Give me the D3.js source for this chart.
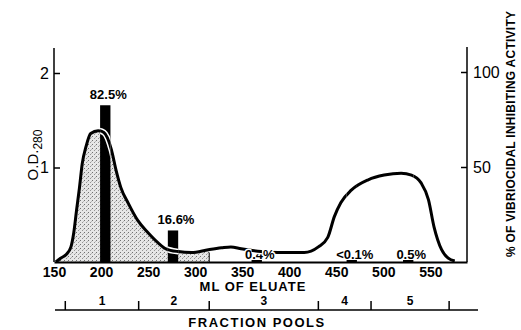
<!DOCTYPE html>
<html>
<head>
<meta charset="utf-8">
<script src="https://cdn.jsdelivr.net/npm/d3@7"></script>
<style>
  body { margin: 0; background: #fff; }
  svg { display: block; font-family: "Liberation Sans", Arial, sans-serif; }
</style>
</head>
<body>
<div id="chart"></div>
<script>
// O.D. 280 curve (ml of eluate -> optical density)
const odMl  = [152, 157, 163, 168, 171, 174, 177, 180, 184, 189, 197, 203, 211, 216, 221, 229, 239, 250, 261, 269, 282, 296, 314, 328, 338, 349, 370, 388, 416, 431, 441, 448, 455, 466, 484, 501, 519, 530, 540, 548, 554, 562, 569, 576];
const odVal = [0.00, 0.04, 0.08, 0.16, 0.31, 0.55, 0.78, 1.04, 1.22, 1.36, 1.39, 1.37, 1.19, 0.97, 0.79, 0.62, 0.44, 0.31, 0.20, 0.14, 0.11, 0.10, 0.13, 0.15, 0.16, 0.14, 0.11, 0.10, 0.10, 0.16, 0.26, 0.48, 0.63, 0.76, 0.87, 0.92, 0.94, 0.92, 0.84, 0.66, 0.37, 0.13, 0.04, 0.01];

// vibriocidal inhibiting activity bars
const barStart  = [199, 271, 360, 461, 521];
const barVal    = [82.5, 16.6, 0.4, 0.1, 0.5];
const barLabels = ["82.5%", "16.6%", "0.4%", "<0.1%", "0.5%"];
const barWidthMl = 11;

// axes
const xTicks   = [150, 200, 250, 300, 350, 400, 450, 500, 550];
const odTicks  = [1, 2];
const pctTicks = [50, 100];

// fraction pools
const poolEdges = [162, 240, 315, 431, 487, 570];
const poolNames = ["1", "2", "3", "4", "5"];
const shadeEnd = 315;

const W = 521, H = 330;
const svg = d3.select("#chart").append("svg").attr("width", W).attr("height", H);

const x  = d3.scaleLinear().domain([150, 589]).range([54, 467]);
const y  = d3.scaleLinear().domain([0, 2]).range([262, 73]);
const yR = d3.scaleLinear().domain([0, 100]).range([262, 72]);

const pts = odMl.map((m, i) => ({ ml: m, od: odVal[i] }));
const bars = barStart.map((s, i) => ({ s: s, v: barVal[i], label: barLabels[i] }));

// stipple pattern
const defs = svg.append("defs");
const pat = defs.append("pattern").attr("id", "stip")
  .attr("patternUnits", "userSpaceOnUse").attr("width", 4).attr("height", 4);
pat.append("rect").attr("width", 4).attr("height", 4).attr("fill", "#e6e6e6");
pat.append("rect").attr("x", 0).attr("y", 0).attr("width", 1).attr("height", 1).attr("fill", "#707070");
pat.append("rect").attr("x", 2).attr("y", 2).attr("width", 1).attr("height", 1).attr("fill", "#959595");
pat.append("rect").attr("x", 3).attr("y", 1).attr("width", 1).attr("height", 1).attr("fill", "#b8b8b8");

defs.append("clipPath").attr("id", "shadeClip").append("rect")
  .attr("x", x(150)).attr("y", 0).attr("width", x(shadeEnd) - x(150)).attr("height", y(0));

const barClip = defs.append("clipPath").attr("id", "barClip");
barClip.selectAll("rect").data(bars).enter().append("rect")
  .attr("x", d => x(d.s)).attr("width", d => x(d.s + barWidthMl) - x(d.s))
  .attr("y", 0).attr("height", y(0));

const curve = d3.curveMonotoneX;

// shaded area under pools 1-2
svg.append("path").datum(pts)
  .attr("clip-path", "url(#shadeClip)")
  .attr("fill", "url(#stip)")
  .attr("d", d3.area().x(d => x(d.ml)).y0(y(0)).y1(d => y(d.od)).curve(curve));
svg.append("line")
  .attr("x1", x(shadeEnd)).attr("x2", x(shadeEnd))
  .attr("y1", y(0)).attr("y2", y(0.1))
  .attr("stroke", "#000").attr("stroke-width", 1);

const line = d3.line().x(d => x(d.ml)).y(d => y(d.od)).curve(curve);

// main curve
svg.append("path").datum(pts)
  .attr("fill", "none").attr("stroke", "#000").attr("stroke-width", 3)
  .attr("d", line);

// percent labels (white halo breaks the curve)
svg.selectAll(".blabel").data(bars).enter().append("text")
  .attr("class", "blabel")
  .attr("x", d => x(d.s + barWidthMl / 2) + 3)
  .attr("y", d => d.v > 5 ? yR(d.v) - 6 : 259)
  .attr("text-anchor", "middle")
  .attr("font-size", 13).attr("font-weight", "bold")
  .attr("stroke", "#fff").attr("stroke-width", 3).attr("paint-order", "stroke")
  .attr("fill", "#000")
  .text(d => d.label);

// activity bars
svg.selectAll(".bar").data(bars).enter().append("rect")
  .attr("class", "bar")
  .attr("x", d => x(d.s))
  .attr("width", d => x(d.s + barWidthMl) - x(d.s))
  .attr("y", d => Math.min(yR(d.v), y(0) - 2))
  .attr("height", d => Math.max(y(0) - yR(d.v), 2))
  .attr("fill", "#000");

// curve crossing the bars, with a white edge
const over = svg.append("g").attr("clip-path", "url(#barClip)");
over.append("path").datum(pts)
  .attr("fill", "none").attr("stroke", "#fff").attr("stroke-width", 6).attr("d", line);
over.append("path").datum(pts)
  .attr("fill", "none").attr("stroke", "#000").attr("stroke-width", 3).attr("d", line);

// left axis
svg.append("line").attr("x1", x(150)).attr("x2", x(150)).attr("y1", y(0)).attr("y2", 48)
  .attr("stroke", "#000").attr("stroke-width", 1.5);
const gl = svg.append("g").attr("transform", "translate(" + x(150) + ",0)")
  .call(d3.axisLeft(y).tickValues(odTicks).tickFormat(d3.format("d")).tickSize(-6).tickPadding(5));
gl.select(".domain").remove();
gl.selectAll("line").attr("stroke-width", 1.5);
gl.selectAll("text").attr("font-size", 16).attr("font-family", "Liberation Sans, Arial, sans-serif");

// right axis
svg.append("line").attr("x1", 467).attr("x2", 467).attr("y1", y(0)).attr("y2", 47)
  .attr("stroke", "#000").attr("stroke-width", 1.5);
const gr = svg.append("g").attr("transform", "translate(467,0)")
  .call(d3.axisRight(yR).tickValues(pctTicks).tickFormat(d3.format("d")).tickSize(-6).tickPadding(6));
gr.select(".domain").remove();
gr.selectAll("line").attr("stroke-width", 1.5);
gr.selectAll("text").attr("font-size", 16).attr("font-family", "Liberation Sans, Arial, sans-serif");

// bottom axis
const gb = svg.append("g").attr("transform", "translate(0," + y(0) + ")")
  .call(d3.axisBottom(x).tickValues(xTicks).tickSize(0).tickPadding(5).tickSizeOuter(0));
gb.select(".domain").attr("stroke-width", 2);
gb.selectAll("text").attr("font-size", 14).attr("font-weight", "bold")
  .attr("font-family", "Liberation Sans, Arial, sans-serif");

svg.append("text")
  .attr("x", 253).attr("y", 291)
  .attr("text-anchor", "middle").attr("font-size", 13).attr("font-weight", "bold")
  .attr("letter-spacing", 1)
  .text("ML OF ELUATE");

// y titles
const odTitle = svg.append("text")
  .attr("transform", "translate(38,155) rotate(-90)")
  .attr("text-anchor", "middle").attr("font-size", 15);
odTitle.append("tspan").text("O.D.");
odTitle.append("tspan").attr("font-size", 12).attr("dy", 4).text("280");

svg.append("text")
  .attr("transform", "translate(515,134) rotate(-90)")
  .attr("text-anchor", "middle").attr("font-size", 12).attr("font-weight", "bold")
  .attr("textLength", 246).attr("lengthAdjust", "spacing")
  .text("% OF VIBRIOCIDAL  INHIBITING ACTIVITY");

// fraction pools scale
const poolY = 310;
svg.append("line")
  .attr("x1", 55).attr("x2", 478).attr("y1", poolY).attr("y2", poolY)
  .attr("stroke", "#000").attr("stroke-width", 1.5);
svg.selectAll(".ptick").data(poolEdges).enter().append("line")
  .attr("class", "ptick")
  .attr("x1", d => x(d)).attr("x2", d => x(d))
  .attr("y1", poolY - 9).attr("y2", poolY)
  .attr("stroke", "#000").attr("stroke-width", 1.5);
svg.selectAll(".pname").data(poolNames).enter().append("text")
  .attr("class", "pname")
  .attr("x", (d, i) => (x(poolEdges[i]) + x(poolEdges[i + 1])) / 2)
  .attr("y", 305)
  .attr("text-anchor", "middle").attr("font-size", 12).attr("font-weight", "bold")
  .text(d => d);

svg.append("text")
  .attr("x", 257).attr("y", 327)
  .attr("text-anchor", "middle").attr("font-size", 13).attr("font-weight", "bold")
  .attr("letter-spacing", 1.5)
  .text("FRACTION POOLS");
</script>
</body>
</html>
